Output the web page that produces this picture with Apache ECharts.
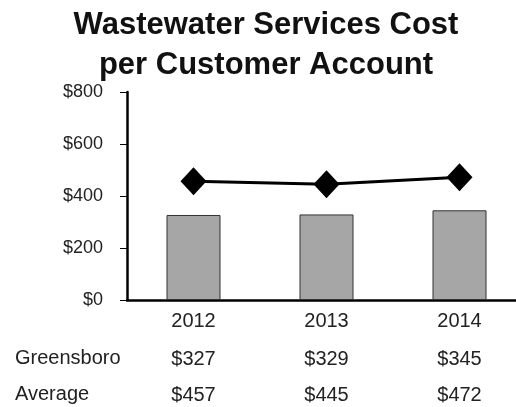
<!DOCTYPE html>
<html>
<head>
<meta charset="utf-8">
<script src="https://cdn.jsdelivr.net/npm/echarts@6/dist/echarts.min.js"></script>
<style>
html, body { margin: 0; padding: 0; background: #fff; }
#chart { width: 516px; height: 407px; }
</style>
</head>
<body>
<div id="chart"></div>
<script>
// wastewater cost per account
var years = ['2012', '2013', '2014'];
var greensboro = [327, 329, 345];
var average = [457, 445, 472];
var rowNames = ['Greensboro', 'Average'];
var yTicks = [0, 200, 400, 600, 800];
var titleText = 'Wastewater Services Cost\nper Customer Account';

var chart = echarts.init(document.getElementById('chart'));

function money(v) {
    return '$' + v;
}

var font = 'Liberation Sans, Arial, sans-serif';

// extra x axes used as the little table under the chart
function tableAxis(values, offset) {
    return {
        type: 'category',
        position: 'bottom',
        offset: offset,
        data: values.map(money),
        axisLine: {show: false},
        axisTick: {show: false},
        axisLabel: {color: '#222', fontSize: 20, fontFamily: font, margin: 11}
    };
}

// row headers of the table
var graphics = rowNames.map(function (name, i) {
    return {
        type: 'text',
        x: 15,
        y: 358 + i * 36,
        style: {
            text: name,
            fontSize: 20,
            fontFamily: font,
            fill: '#222',
            verticalAlign: 'middle'
        }
    };
});
// title, centred a bit right of the page middle like the original
graphics.push({
    type: 'text',
    x: 266,
    y: 5,
    style: {
        text: titleText,
        fontSize: 31,
        fontWeight: 'bold',
        fontFamily: font,
        fill: '#111',
        lineHeight: 40,
        align: 'center',
        verticalAlign: 'top'
    }
});

var option = {
    backgroundColor: '#fff',
    animation: false,
    grid: {
        left: 127,
        width: 399,
        top: 92,
        bottom: 107,
        outerBoundsMode: 'none'
    },
    xAxis: [
        {
            type: 'category',
            data: years,
            axisLine: {lineStyle: {color: '#000', width: 2.5}},
            axisTick: {show: false},
            axisLabel: {color: '#222', fontSize: 20, fontFamily: font, margin: 11}
        },
        tableAxis(greensboro, 38),
        tableAxis(average, 74)
    ],
    yAxis: {
        type: 'value',
        min: yTicks[0],
        max: yTicks[yTicks.length - 1],
        interval: 200,
        axisLine: {show: true, lineStyle: {color: '#000', width: 2.5}},
        axisTick: {show: true, length: 7, lineStyle: {color: '#000', width: 1}},
        splitLine: {show: false},
        axisLabel: {
            color: '#222',
            fontSize: 18,
            fontFamily: font,
            margin: 24,
            formatter: money
        }
    },
    graphic: graphics,
    series: [
        {
            name: 'Greensboro',
            type: 'bar',
            data: greensboro,
            barWidth: 54,
            itemStyle: {color: '#a6a6a6', borderColor: '#333', borderWidth: 1}
        },
        {
            name: 'Average',
            type: 'line',
            data: average,
            symbol: 'diamond',
            symbolSize: [26, 28],
            lineStyle: {color: '#000', width: 3},
            itemStyle: {color: '#000'}
        }
    ]
};

chart.setOption(option);
</script>
</body>
</html>
